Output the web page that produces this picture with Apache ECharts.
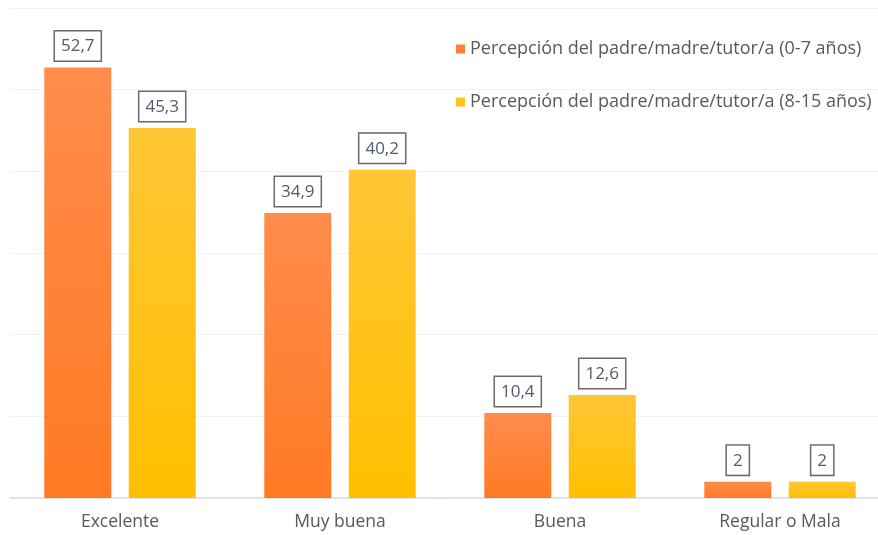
<!DOCTYPE html>
<html>
<head>
<meta charset="utf-8">
<script src="https://cdn.jsdelivr.net/npm/echarts@6/dist/echarts.min.js"></script>
<style>
  html, body { margin: 0; padding: 0; background: #ffffff; }
  #main { width: 878px; height: 535px; }
</style>
</head>
<body>
<div id="main"></div>
<script>
// categorías y valores (%)
const categories = ['Excelente', 'Muy buena', 'Buena', 'Regular o Mala']
const seriesNames = [
  'Percepción del padre/madre/tutor/a (0-7 años)',
  'Percepción del padre/madre/tutor/a (8-15 años)'
]
const valores0a7 = [52.7, 34.9, 10.4, 2]
const valores8a15 = [45.3, 40.2, 12.6, 2]

const fontFamily = '"Open Sans", "Noto Sans", sans-serif'

function grad(top, bottom) {
  return new echarts.graphic.LinearGradient(0, 0, 0, 1, [
    { offset: 0, color: top },
    { offset: 1, color: bottom }
  ])
}

const boxLabel = {
  show: true,
  position: 'top',
  distance: 7,
  color: '#525b6a',
  fontFamily: fontFamily,
  fontSize: 17,
  lineHeight: 18,
  backgroundColor: '#ffffff',
  borderColor: '#6a6a6a',
  borderWidth: 1.5,
  padding: [6, 6, 5, 6],
  formatter: function (p) {
    return String(p.value).replace('.', ',')
  }
}

const chart = echarts.init(document.getElementById('main'))
chart.setOption({
  animation: false,
  backgroundColor: '#ffffff',
  grid: { left: 10, top: 8, right: -12, bottom: 37, containLabel: false, outerBoundsMode: 'none' },
  legend: {
    orient: 'vertical',
    left: 451,
    top: 35,
    itemWidth: 9,
    itemHeight: 9,
    itemGap: 35,
    icon: 'rect',
    textStyle: { color: '#595959', fontFamily: fontFamily, fontSize: 18 },
    data: [
      { name: seriesNames[0], itemStyle: { color: '#ff7f3a' } },
      { name: seriesNames[1], itemStyle: { color: '#ffc31c' } }
    ]
  },
  xAxis: {
    type: 'category',
    data: categories,
    axisLine: { lineStyle: { color: '#d8dde4', width: 1.5 } },
    axisTick: { show: false },
    axisLabel: { color: '#595959', fontFamily: fontFamily, fontSize: 17.5, margin: 15 }
  },
  yAxis: {
    type: 'value',
    min: 0,
    max: 60,
    interval: 10,
    axisLabel: { show: false },
    axisLine: { show: false },
    axisTick: { show: false },
    splitLine: { lineStyle: { color: '#f1f2f4', width: 1 } }
  },
  series: [
    {
      name: seriesNames[0],
      type: 'bar',
      data: valores0a7,
      barWidth: 67,
      barGap: '26%',
      itemStyle: { color: grad('#ff8c4c', '#ff7a24') },
      label: boxLabel
    },
    {
      name: seriesNames[1],
      type: 'bar',
      data: valores8a15,
      barWidth: 67,
      itemStyle: { color: grad('#ffc636', '#ffc000') },
      label: boxLabel
    }
  ]
})
</script>
</body>
</html>
